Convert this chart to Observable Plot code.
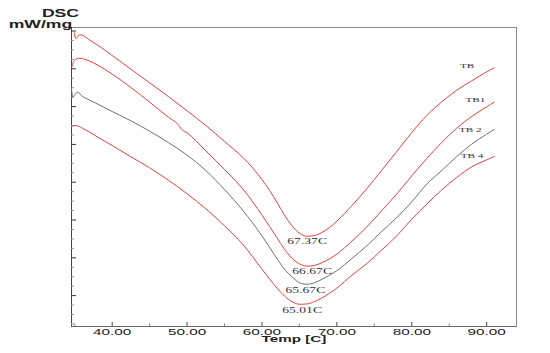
<!DOCTYPE html>
<html><head><meta charset="utf-8">
<script src="https://cdn.jsdelivr.net/npm/d3@7"></script>
<script src="https://cdn.jsdelivr.net/npm/@observablehq/plot@0.6"></script>
<style>body{margin:0;background:#fff;}</style>
</head><body><div id="chart"></div>
<script>
// ---- data (Temp in °C, heat flow in mW/mg, arbitrary offset) ----
const tbTemp  = [34.95,35.15,35.45,35.8,37,38,40,42.5,45,47.5,50,52.5,55,57.5,60,62,63,64,65,66,67,68,69,70,72,74,76,78,80,82,84,86,88,90,91];
const tbValue = [-0.048,-0.207,-0.127,-0.101,-0.242,-0.365,-0.648,-1.009,-1.371,-1.732,-2.111,-2.499,-2.923,-3.355,-3.93,-4.53,-4.87,-5.15,-5.35,-5.43,-5.41,-5.33,-5.20,-5.03,-4.62,-4.17,-3.68,-3.187,-2.685,-2.235,-1.873,-1.565,-1.318,-1.080,-0.974];

const tb1Temp  = [34.6,34.8,35.1,35.5,36,37,38,40,42.5,45,47.5,49,49.2,50,52.5,55,57.5,60,62,63,64,65,66,67,68,69,70,72,74,76,78,80,82,84,86,88,90,91];
const tb1Value = [-0.965,-0.824,-0.753,-0.718,-0.727,-0.798,-0.895,-1.141,-1.494,-1.882,-2.279,-2.526,-2.588,-2.693,-3.170,-3.663,-4.192,-4.87,-5.47,-5.77,-6.01,-6.16,-6.22,-6.20,-6.13,-6.03,-5.90,-5.56,-5.18,-4.75,-4.307,-3.831,-3.372,-2.949,-2.570,-2.261,-2.006,-1.882];

const tb2Temp  = [34.55,34.75,35.0,35.4,36,37,38,40,42.5,45,47.5,50,52.5,55,57.5,60,62,63,64,65,66,67,68,69,70,72,74,76,78,80,82,84,86,88,90,91];
const tb2Value = [-1.494,-1.750,-1.688,-1.618,-1.724,-1.829,-1.926,-2.129,-2.376,-2.649,-2.949,-3.284,-3.690,-4.192,-4.76,-5.42,-6.02,-6.30,-6.50,-6.66,-6.70,-6.66,-6.57,-6.46,-6.34,-6.02,-5.68,-5.30,-4.933,-4.519,-4.051,-3.690,-3.320,-2.993,-2.729,-2.605];

const tb4Temp  = [34.6,35.0,35.5,36,37,38,40,42.5,45,47.5,50,52.5,55,57.5,60,62,63,64,65,66,67,68,69,70,72,74,76,78,80,82,84,86,88,90,91];
const tb4Value = [-2.535,-2.500,-2.517,-2.570,-2.676,-2.799,-3.029,-3.328,-3.619,-3.946,-4.307,-4.704,-5.154,-5.66,-6.30,-6.80,-7.01,-7.16,-7.23,-7.22,-7.16,-7.06,-6.94,-6.80,-6.46,-6.15,-5.79,-5.418,-4.977,-4.581,-4.201,-3.875,-3.593,-3.408,-3.320];

const seriesNames  = ["TB", "TB1", "TB 2", "TB 4"];
const seriesLabelT = [87.40, 88.51, 87.84, 88.07];
const seriesLabelV = [-0.931, -1.812, -2.605, -3.293];

const peakLabels = ["67.37C", "66.67C", "65.67C", "65.01C"];
const peakLabelT = [66.04, 66.71, 65.81, 65.37];
const peakLabelV = [-5.568, -6.362, -6.846, -7.375];

const xMajorTicks = [40, 50, 60, 70, 80, 90];
const xMinorTicks = [35, 45, 55, 65, 75, 85];
const yMajorTicks = [0, -1, -2, -3, -4, -5, -6, -7];
const yMinorTicks = d3.range(-7.75, 0, 0.25).filter(v => !Number.isInteger(v));
const xDomain = [34.57, 93.98];
const yDomain = [-7.817, 0.093];

// ---- build rows ----
const rows = (t, v) => t.map((temp, i) => ({temp, value: v[i]}));
const red = "#e8403f", grey = "#6e6e6e";
const sans = "'Liberation Sans', Arial, sans-serif";
const serif = "'Liberation Serif', 'Times New Roman', serif";

const chart = Plot.plot({
  width: 550, height: 353,
  marginLeft: 71, marginRight: 34, marginTop: 27, marginBottom: 27,
  style: {fontFamily: sans, fontSize: "9px", color: "#222", background: "#fff"},
  x: {domain: xDomain, label: null},
  y: {domain: yDomain, label: null},
  marks: [
    Plot.frame({stroke: "#8a8a8a"}),
    Plot.ruleX([xDomain[0]], {stroke: "#444"}),
    Plot.ruleY([yDomain[0]], {stroke: "#666"}),
    Plot.axisX(xMajorTicks, {anchor: "bottom", tickSize: -4, tickPadding: 6, stroke: "#444",
      tickFormat: d => d.toFixed(2), fontSize: 9, fill: "#222", label: null}),
    Plot.axisX(xMinorTicks, {anchor: "bottom", tickSize: -2.5, stroke: "#888", fill: "none", label: null}),
    Plot.axisY(yMajorTicks, {anchor: "left", tickSize: -5, stroke: "#333", fill: "none", label: null}),
    Plot.axisY(yMinorTicks, {anchor: "left", tickSize: -3, stroke: "#9a9a9a", fill: "none", label: null}),
    Plot.line(rows(tbTemp, tbValue), {x: "temp", y: "value", stroke: red, strokeWidth: 1, curve: "monotone-x"}),
    Plot.line(rows(tb1Temp, tb1Value), {x: "temp", y: "value", stroke: red, strokeWidth: 1, curve: "monotone-x"}),
    Plot.line(rows(tb2Temp, tb2Value), {x: "temp", y: "value", stroke: grey, strokeWidth: 1, curve: "monotone-x"}),
    Plot.line(rows(tb4Temp, tb4Value), {x: "temp", y: "value", stroke: red, strokeWidth: 1, curve: "monotone-x"}),
    Plot.text(seriesNames, {x: (d, i) => seriesLabelT[i], y: (d, i) => seriesLabelV[i], text: d => d,
      fontFamily: serif, fontSize: 7, fill: "#333"}),
    Plot.text(peakLabels, {x: (d, i) => peakLabelT[i], y: (d, i) => peakLabelV[i], text: d => d,
      fontFamily: serif, fontSize: 8.5, fill: "#333"}),
    Plot.text(["DSC"], {frameAnchor: "top-left", textAnchor: "middle", text: d => d, dx: -11, dy: -18, fontWeight: "bold", fontSize: 11, fill: "#222"}),
    Plot.text(["mW/mg"], {frameAnchor: "top-left", textAnchor: "middle", text: d => d, dx: -31, dy: -7, fontWeight: "bold", fontSize: 11, fill: "#222"}),
    Plot.text(["Temp [C]"], {frameAnchor: "bottom", textAnchor: "middle", text: d => d, dy: 15.5, fontWeight: "bold", fontSize: 9.5, fill: "#222"})
  ]
});
document.getElementById("chart").appendChild(chart);

// the reference's lettering is stretched horizontally; stretch, then re-centre
chart.querySelectorAll("text").forEach(t => {
  const inTicks = t.closest('g[aria-label="x-axis tick label"]');
  const k = inTicks ? 1.7 : 1.6;
  const w = t.getComputedTextLength();
  if (!(w > 0)) return;
  const b0 = t.getBBox();
  const c0 = b0.x + b0.width / 2;
  t.setAttribute("textLength", (w * k).toFixed(1));
  t.setAttribute("lengthAdjust", "spacingAndGlyphs");
  const b1 = t.getBBox();
  const shift = c0 - (b1.x + b1.width / 2);
  if (Math.abs(shift) > 0.01) {
    const tr = t.getAttribute("transform") || "";
    t.setAttribute("transform", `translate(${shift.toFixed(2)},0) ${tr}`);
  }
});
</script>
</body></html>
